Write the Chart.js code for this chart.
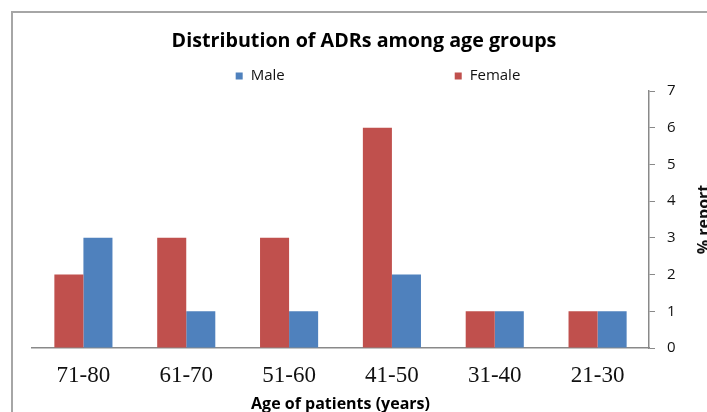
<!DOCTYPE html>
<html>
<head>
<meta charset="utf-8">
<script src="https://cdn.jsdelivr.net/npm/chart.js@4"></script>
<style>
  body { margin: 0; overflow: hidden; background: #fff; }
  .frame { position: absolute; left: 11px; top: 11px; width: 800px; height: 500px;
           border-left: 2px solid #a6a6a6; border-top: 2px solid #a6a6a6; }
  .wrap { position: absolute; left: 0; top: 0; width: 730px; height: 430px; }
</style>
</head>
<body>
<div class="frame"></div>
<div class="wrap"><canvas id="bars"></canvas></div>
<script>
const ageGroups = ['71-80', '61-70', '51-60', '41-50', '31-40', '21-30'];
const femaleValues = [2, 3, 3, 6, 1, 1];
const maleValues = [3, 1, 1, 2, 1, 1];
const yTicks = [0, 1, 2, 3, 4, 5, 6, 7];
const chartTitle = 'Distribution of ADRs among age groups';
const yTitle = '% report';

const ctxBars = document.getElementById('bars');

// title, legend and rotated y title drawn by hand (Excel style)
const extras = {
    id: 'extras',
    afterDraw(chart) {
        const ctx = chart.ctx;
        ctx.save();
        ctx.textBaseline = 'middle';

        ctx.font = 'bold 19.7px "Open Sans"';
        ctx.fillStyle = '#000';
        ctx.textAlign = 'center';
        ctx.fillText(chartTitle, 364, 41);

        ctx.font = '15px "Open Sans"';
        const order = [1, 0];
        const gap = 170;
        const box = 7;
        const widths = order.map(i => box + 8 + ctx.measureText(chart.data.datasets[i].label).width);
        const total = widths[0] + widths[1] + gap;
        let x = 378 - total / 2;
        const y = 76;
        order.forEach((i, n) => {
            const ds = chart.data.datasets[i];
            ctx.fillStyle = ds.backgroundColor;
            ctx.fillRect(x, y - box / 2, box, box);
            ctx.fillStyle = '#111';
            ctx.textAlign = 'left';
            ctx.fillText(ds.label, x + box + 8, y);
            x += widths[n] + gap;
        });

        const area = chart.chartArea;
        ctx.translate(704, (area.top + area.bottom) / 2);
        ctx.rotate(-Math.PI / 2);
        ctx.font = 'bold 16px "Open Sans"';
        ctx.textAlign = 'center';
        ctx.fillText(yTitle, 0, 0);
        ctx.restore();
    }
};

let barChart = new Chart(ctxBars, {
    type: 'bar',
    data: {
        labels: ageGroups,
        datasets: [{
            label: 'Female',
            data: femaleValues,
            backgroundColor: '#c0504d',
            barPercentage: 1,
            categoryPercentage: 0.565
        }, {
            label: 'Male',
            data: maleValues,
            backgroundColor: '#4f81bd',
            barPercentage: 1,
            categoryPercentage: 0.565
        }]
    },
    options: {
        responsive: true,
        maintainAspectRatio: false,
        animation: false,
        layout: {
            padding: { left: 32, right: 0, top: 91, bottom: 0 }
        },
        plugins: {
            legend: { display: false },
            tooltip: { enabled: false },
            title: { display: false }
        },
        scales: {
            x: {
                grid: { display: false, drawTicks: false },
                border: { color: '#898989', width: 1.5 },
                ticks: {
                    color: '#111',
                    padding: 14,
                    font: { family: 'Liberation Serif', size: 23 }
                },
                title: {
                    display: true,
                    text: 'Age of patients (years)',
                    color: '#000',
                    font: { family: 'Open Sans', size: 16, weight: 'bold' },
                    padding: { top: 0, bottom: 16 }
                },
                afterFit(scale) { scale.height = 82; }
            },
            y: {
                position: 'right',
                min: 0,
                max: 7,
                afterBuildTicks(scale) { scale.ticks = yTicks.map(v => ({ value: v })); },
                grid: {
                    drawOnChartArea: false,
                    drawTicks: true,
                    tickLength: 6,
                    color: '#898989',
                    tickColor: '#898989'
                },
                border: { color: '#898989', width: 1.5 },
                ticks: {
                    color: '#111',
                    padding: 12,
                    font: { family: 'Open Sans', size: 15 }
                },
                afterFit(scale) { scale.width = 81; }
            }
        }
    },
    plugins: [extras]
});
</script>
</body>
</html>
